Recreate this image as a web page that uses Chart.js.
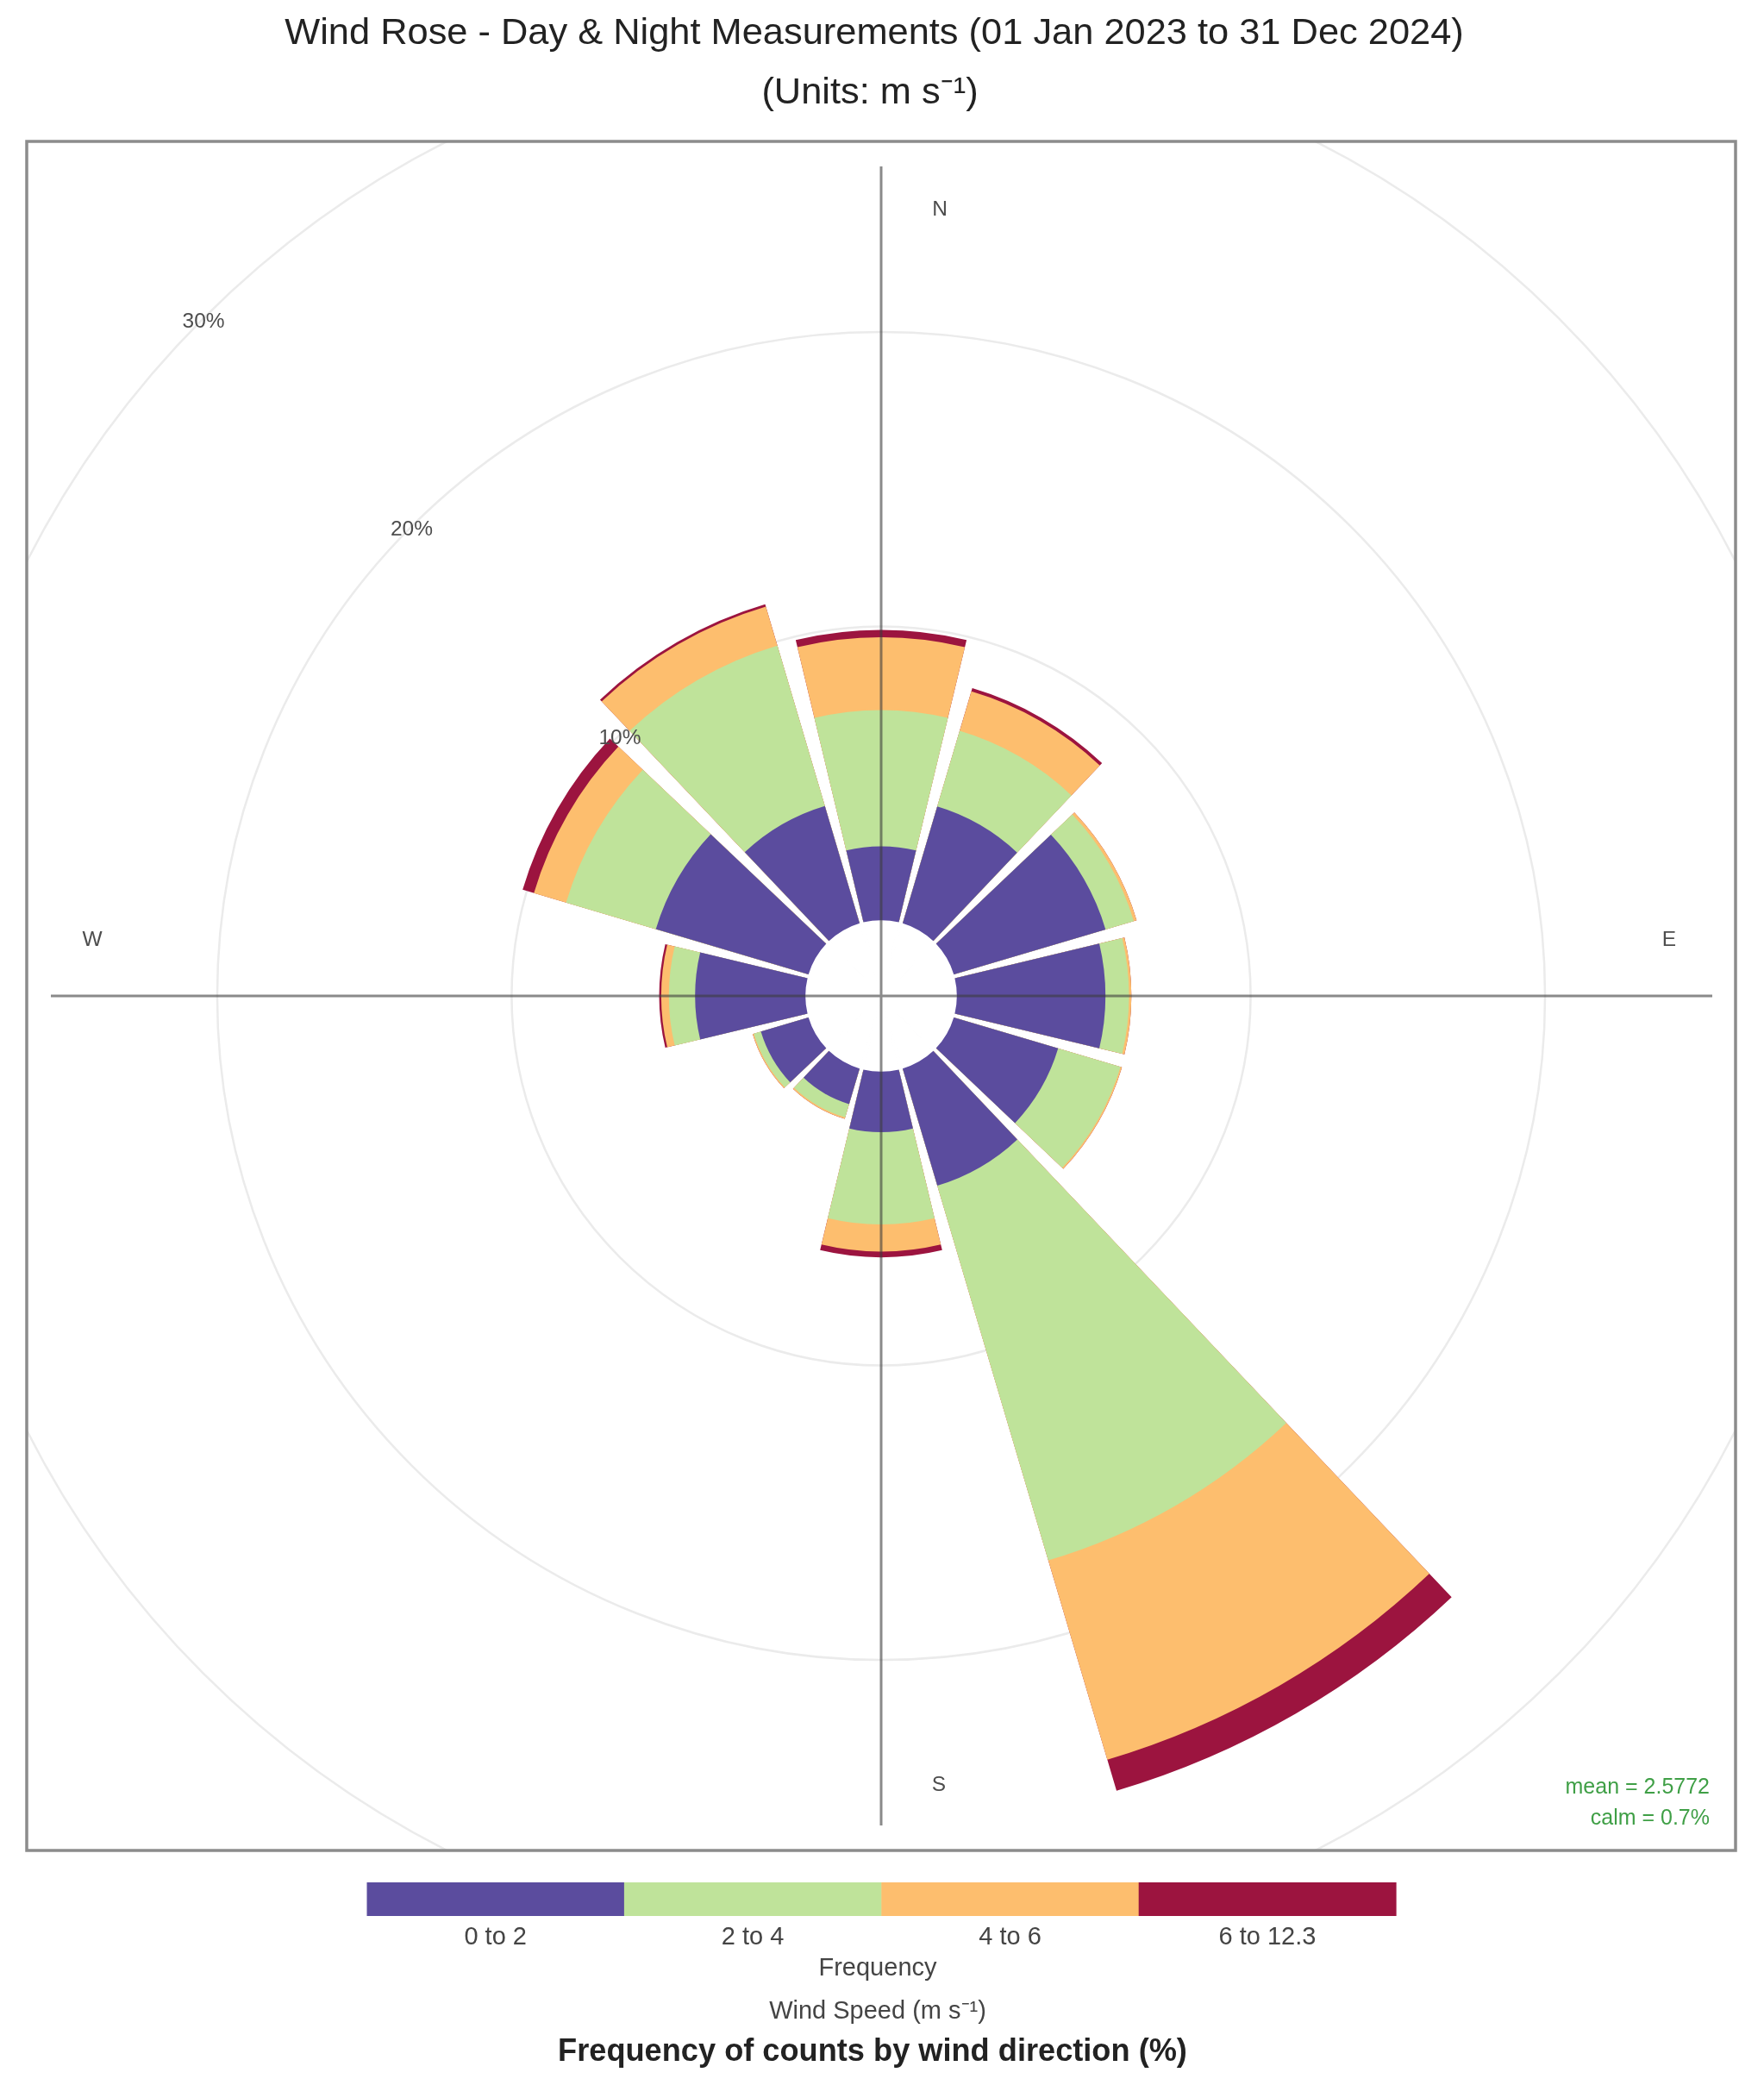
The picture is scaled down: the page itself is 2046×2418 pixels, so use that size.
<!DOCTYPE html>
<html>
<head>
<meta charset="utf-8">
<title>Wind Rose</title>
<script src="https://cdn.jsdelivr.net/npm/chart.js@4/dist/chart.umd.js"></script>
<style>
  html, body { margin: 0; padding: 0; background: #fff; }
  canvas { display: block; }
</style>
</head>
<body>
<canvas id="windRose" width="2046" height="2418"></canvas>
<script>
// wind direction sectors, degrees clockwise from north
const directions = [0, 30, 60, 90, 120, 150, 180, 210, 240, 270, 300, 330];

// frequency (%) per direction for each speed bin
const speed0to2 = [2.53, 4.16, 5.40, 5.07, 3.72, 4.17, 2.08, 1.28, 1.71, 3.77, 5.43, 4.18];
const speed2to4 = [4.63, 2.68, 1.00, 0.80, 2.21, 13.27, 3.13, 0.47, 0.25, 0.89, 3.18, 5.68];
const speed4to6 = [2.47, 1.40, 0.10, 0.08, 0.05, 7.06, 0.92, 0.05, 0.04, 0.26, 1.14, 1.38];
const speed6to12 = [0.25, 0.11, 0, 0, 0, 1.10, 0.20, 0, 0, 0.07, 0.40, 0.08];

const speedLabels = ['0 to 2', '2 to 4', '4 to 6', '6 to 12.3'];
const speedColors = ['#5b4c9e', '#bfe39a', '#fdbe6e', '#9c143f'];

const ringValues = [10, 20, 30];
const compassLabels = ['N', 'E', 'S', 'W'];
const statLabels = ['mean = 2.5772', 'calm = 0.7%'];

const titleLines = ['Wind Rose - Day & Night Measurements (01 Jan 2023 to 31 Dec 2024)', '(Units: m s\u207B\u00B9)'];
const FONT = '"Liberation Sans", Arial, sans-serif';

const WEDGE = 27;
const GAP = 30 - WEDGE;

// every other slot of the polar table is the blank gap between two wedges,
// polarArea overlays its datasets so the stack is drawn as running totals
function withGaps(values) {
    const out = [];
    values.forEach(v => out.push(v, 0));
    return out;
}

function runningTotals(bins) {
    const totals = directions.map(() => 0);
    return bins.map(bin => withGaps(bin.map((v, i) => totals[i] += v)));
}

const stacked = runningTotals([speed0to2, speed2to4, speed4to6, speed6to12]);
const wedgeAngle = ctx => (ctx.index % 2 ? GAP : WEDGE);

const tableLabels = [];
directions.forEach(d => tableLabels.push(d + '\u00B0', ''));

const datasets = [{
    // white centre of the rose, sits on top of the wedges
    // the white border hides the seams between its slices
    label: 'centre',
    data: withGaps(directions.map(() => 0)),
    backgroundColor: '#fff',
    borderColor: '#fff',
    borderWidth: 1.5,
    angle: wedgeAngle,
}];
stacked.forEach((data, i) => {
    datasets.push({
        label: speedLabels[i],
        data: data,
        backgroundColor: speedColors[i],
        borderWidth: 0,
        angle: wedgeAngle,
    });
});

function drawText(ctx, text, x, y, font, color, align) {
    ctx.font = font;
    ctx.fillStyle = color;
    ctx.textAlign = align || 'center';
    ctx.textBaseline = 'middle';
    ctx.fillText(text, x, y);
}

const rosePlugin = {
    id: 'rose',
    beforeDatasetsDraw(chart) {
        const { ctx, chartArea, scales: { r } } = chart;
        ctx.save();
        ctx.beginPath();
        ctx.rect(chartArea.left, chartArea.top, chartArea.width, chartArea.height);
        ctx.clip();
        ctx.strokeStyle = '#ebebeb';
        ctx.lineWidth = 2.5;
        ringValues.forEach(v => {
            ctx.beginPath();
            ctx.arc(r.xCenter, r.yCenter, r.getDistanceFromCenterForValue(v), 0, Math.PI * 2);
            ctx.stroke();
        });
        ctx.restore();
    },
    afterDatasetsDraw(chart) {
        const { ctx, chartArea, scales: { r } } = chart;
        const cx = r.xCenter;
        const cy = r.yCenter;
        ctx.save();

        // cross lines go over the wedges and show through
        ctx.strokeStyle = 'rgba(60,60,60,0.6)';
        ctx.lineWidth = 3;
        ctx.beginPath();
        ctx.moveTo(cx - 963, cy);
        ctx.lineTo(cx + 964, cy);
        ctx.moveTo(cx, cy - 962);
        ctx.lineTo(cx, cy + 962);
        ctx.stroke();

        // ring labels along the north west diagonal
        const font = '24.5px ' + FONT;
        ringValues.forEach(v => {
            const d = r.getDistanceFromCenterForValue(v) * Math.SQRT1_2;
            drawText(ctx, v + '%', cx - d, cy - d + 4, font, '#4d4d4d');
        });

        const compassAt = [[68, -912], [914, -65], [67, 915], [-915, -65]];
        compassLabels.forEach((t, i) => {
            drawText(ctx, t, cx + compassAt[i][0], cy + compassAt[i][1], font, '#4d4d4d');
        });

        // mean and calm, bottom right corner of the frame
        const statFont = '25px ' + FONT;
        drawText(ctx, statLabels[0], chartArea.right - 30, chartArea.bottom - 73, statFont, '#3f9f46', 'right');
        drawText(ctx, statLabels[1], chartArea.right - 30, chartArea.bottom - 37, statFont, '#3f9f46', 'right');

        // frame
        ctx.strokeStyle = '#8c8c8c';
        ctx.lineWidth = 3.5;
        ctx.strokeRect(chartArea.left, chartArea.top, chartArea.width, chartArea.height);
        ctx.restore();
    },
    afterDraw(chart) {
        const { ctx, chartArea } = chart;
        const keyLeft = 425.5;
        const keyTop = chartArea.bottom + 37;
        const keyStep = 298.4;
        ctx.save();

        // the title sits a little left of the plot centre, so no title plugin here
        const titleFont = '43.4px ' + FONT;
        drawText(ctx, titleLines[0], 1014, 39, titleFont, '#222');
        drawText(ctx, titleLines[1], 1009, 108, titleFont, '#222');

        speedLabels.forEach((label, i) => {
            ctx.fillStyle = speedColors[i];
            ctx.fillRect(keyLeft + keyStep * i, keyTop, keyStep + 0.5, 39);
            drawText(ctx, label, keyLeft + keyStep * (i + 0.5), keyTop + 64, '29px ' + FONT, '#444');
        });
        drawText(ctx, 'Frequency', 1018, chartArea.bottom + 137, '29px ' + FONT, '#444');
        drawText(ctx, 'Wind Speed (m s\u207B\u00B9)', 1018, chartArea.bottom + 187, '29px ' + FONT, '#444');
        drawText(ctx, 'Frequency of counts by wind direction (%)', 1012, chartArea.bottom + 234, 'bold 36.2px ' + FONT, '#222');
        ctx.restore();
    },
};

new Chart(document.getElementById('windRose'), {
    type: 'polarArea',
    data: {
        labels: tableLabels,
        datasets: datasets,
    },
    options: {
        responsive: false,
        animation: false,
        devicePixelRatio: 1,
        layout: {
            padding: { left: 31, right: 33, top: 164, bottom: 272 },
        },
        scales: {
            r: {
                // chosen so that 0% sits on the edge of the white centre
                min: -2.55,
                max: 26.47,
                startAngle: -WEDGE / 2,
                grid: { display: false },
                angleLines: { display: false },
                pointLabels: { display: false },
                ticks: { display: false },
            },
        },
        plugins: {
            legend: { display: false },
            tooltip: { enabled: false },
        },
    },
    plugins: [rosePlugin],
});
</script>
</body>
</html>
